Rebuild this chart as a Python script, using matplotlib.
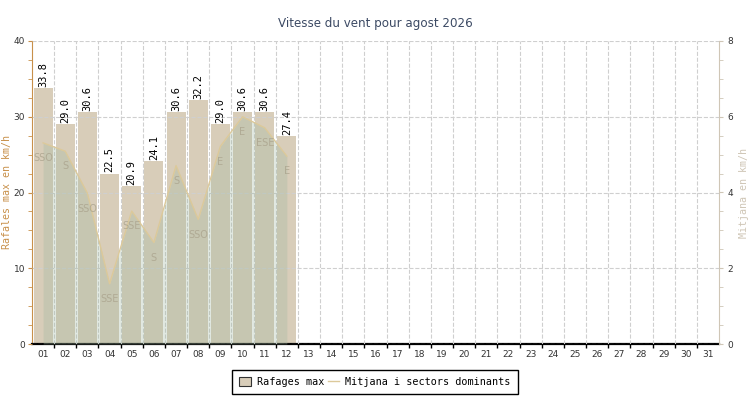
import numpy as np
import matplotlib.pyplot as plt
from matplotlib.patches import Patch
from matplotlib.lines import Line2D

# data (agost 2026)
days = list(range(1, 13))
rafales = [33.8, 29.0, 30.6, 22.5, 20.9, 24.1, 30.6, 32.2, 29.0, 30.6, 30.6, 27.4]
mitjana = [5.31, 5.09, 3.98, 1.59, 3.51, 2.68, 4.71, 3.29, 5.22, 6.00, 5.71, 4.96]
sectors = ['SSO', 'S', 'SSO', 'SSE', 'SSE', 'S', 'S', 'SSO', 'E', 'E', 'ESE', 'E']
day_labels = ['%02d' % d for d in range(1, 32)]

bar_col = '#d8cdb9'
fill_col = '#a2baa2'
line_col = '#dcc99a'
left_col = '#c8904a'
right_col = '#cfc6b6'

fig = plt.figure(figsize=(7.5, 4), dpi=100)
ax = fig.add_axes([32/750, 1-344/400, (719-32)/750, (344-41)/400])

ax.bar(days, rafales, width=0.86, color=bar_col, zorder=1)
for d, r in zip(days, rafales):
    ax.text(d, r + 0.15, '%.1f' % r, rotation=90, ha='center', va='bottom',
            family='DejaVu Sans Mono', fontsize=7.5, color='black', zorder=5)

ax.set_xlim(0.5, 31.5)
ax.set_ylim(0, 40)
ax.set_xticks(range(1, 32))
ax.set_xticklabels(day_labels)
ax.set_xticks(np.arange(1.5, 31.5, 1), minor=True)
ax.set_yticks([0, 10, 20, 30, 40])
ax.set_yticks(np.arange(0, 40, 2.5), minor=True)
ax.tick_params(axis='x', which='major', length=0, labelsize=6.5, colors='#333333', pad=4)
ax.tick_params(axis='x', which='minor', length=3, color='black', width=1)
ax.tick_params(axis='y', which='both', length=3, color=left_col, labelsize=6.5,
               labelcolor='#333333', pad=2)
ax.set_axisbelow(False)
ax.grid(axis='y', which='major', color='#cfcfcf', linestyle='--', linewidth=0.8)
ax.grid(axis='x', which='minor', color='#cfcfcf', linestyle='--', linewidth=0.8)
ax.spines['top'].set_visible(False)
ax.spines['right'].set_visible(False)
ax.spines['left'].set_color(left_col)
ax.spines['bottom'].set_color('black')
ax.spines['bottom'].set_linewidth(1.6)

ax2 = ax.twinx()
ax2.set_ylim(0, 8)
ax2.set_yticks([0, 2, 4, 6, 8])
ax2.set_yticks(np.arange(0, 8, 0.5), minor=True)
ax2.fill_between(days, mitjana, 0, color=fill_col, alpha=0.32, linewidth=0)
ax2.plot(days, mitjana, color=line_col, linewidth=1)
for d, m, s in zip(days, mitjana, sectors):
    ax2.annotate(s, (d, m), xytext=(0, -11), textcoords='offset points',
                 ha='center', va='center', fontsize=7, color='#aca58f', alpha=0.85)
ax2.tick_params(axis='y', which='both', length=3, color=right_col, labelsize=6.5,
                labelcolor='#333333', pad=3)
for side in ['top', 'left', 'bottom']:
    ax2.spines[side].set_visible(False)
ax2.spines['right'].set_color(right_col)

# axis titles placed in figure pixels so they stay inside the canvas
fig.text(7.5/750, 1-192/400, 'Rafales max en km/h', rotation=90, ha='center', va='center',
         color=left_col, fontsize=7.2, family='DejaVu Sans Mono')
fig.text(744/750, 1-193/400, 'Mitjana en km/h', rotation=90, ha='center', va='center',
         color=right_col, fontsize=7.2, family='DejaVu Sans Mono')

fig.text(0.5, 1-24/400, 'Vitesse du vent pour agost 2026', ha='center', va='center',
         fontsize=8.6, color='#3c4a64')

handles = [Patch(facecolor=bar_col, edgecolor='#333333', linewidth=0.8),
           Line2D([], [], color=line_col, linewidth=1)]
leg = fig.legend(handles, ['Rafages max', 'Mitjana i sectors dominants'], ncol=2,
                 loc='center', bbox_to_anchor=(375/750, 1-382/400), fancybox=False,
                 edgecolor='black', framealpha=1, handlelength=1.1, handleheight=1.0,
                 handletextpad=0.6, columnspacing=0.4, borderpad=0.7,
                 prop={'family': 'DejaVu Sans Mono', 'size': 7.3})
leg.get_frame().set_linewidth(1)

fig.savefig('out.png', dpi=100)
